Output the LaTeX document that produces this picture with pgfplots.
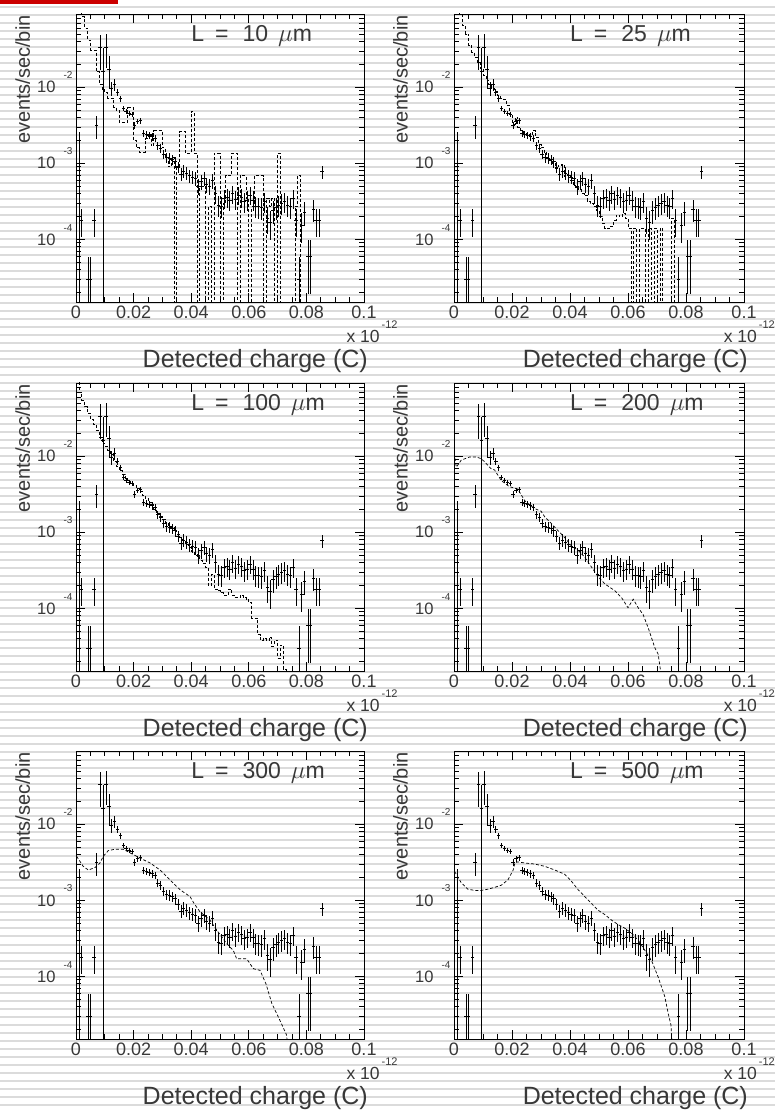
\documentclass[border=0pt]{standalone}
\usepackage{fontspec}
\setmainfont{Liberation Sans}
\usepackage{pgfplots}
\pgfplotsset{compat=1.18}
\usepackage{pgfplotstable}

\definecolor{txt}{gray}{0.22}
\definecolor{stripe}{gray}{0.86}

% measured points: x, rate, error (same in all six panels)
\pgfplotstableread{
x y e
0.0020 1.78e-4 7.0e-5
0.0042 3.0e-5 2.8e-5
0.0050 3.0e-5 2.8e-5
0.0063 1.78e-4 7.0e-5
0.0072 3.16e-3 1.05e-3
0.0084 3.31e-2 1.6e-2
0.0094 1.62e-2 1.619e-2
0.0104 3.4e-2 1.6e-2
0.0114 1.74e-2 8.0e-3
0.0124 9.77e-3 2.0e-3
0.0134 1.10e-2 2.0e-3
0.0144 8.51e-3 9.0e-4
0.0154 7.08e-3 6.0e-4
0.0164 5.25e-3 3.8e-4
0.0174 4.79e-3 3.6e-4
0.0184 4.57e-3 3.5e-4
0.0194 4.37e-3 3.4e-4
0.0204 3.16e-3 2.9e-4
0.0214 3.55e-3 3.1e-4
0.0224 3.63e-3 3.1e-4
0.0234 2.51e-3 2.6e-4
0.0244 2.40e-3 2.5e-4
0.0254 2.34e-3 2.5e-4
0.0264 2.24e-3 2.5e-4
0.0274 2.14e-3 2.4e-4
0.0284 1.70e-3 2.1e-4
0.0294 1.58e-3 2.1e-4
0.0304 1.32e-3 1.9e-4
0.0314 1.20e-3 1.8e-4
0.0324 1.17e-3 1.8e-4
0.0334 1.12e-3 1.7e-4
0.0344 1.05e-3 1.7e-4
0.0354 8.91e-4 1.55e-4
0.0364 7.24e-4 1.4e-4
0.0374 7.94e-4 1.46e-4
0.0384 7.41e-4 1.41e-4
0.0394 6.92e-4 1.37e-4
0.0404 6.61e-4 1.34e-4
0.0414 6.31e-4 1.31e-4
0.0424 5.01e-4 1.16e-4
0.0434 5.75e-4 1.25e-4
0.0444 6.31e-4 1.31e-4
0.0454 5.25e-4 1.19e-4
0.0464 5.01e-4 1.16e-4
0.0474 5.89e-4 1.26e-4
0.0484 3.98e-4 1.04e-4
0.0494 2.82e-4 8.7e-5
0.0504 2.75e-4 8.6e-5
0.0514 3.47e-4 9.7e-5
0.0524 3.55e-4 9.8e-5
0.0534 3.31e-4 9.5e-5
0.0544 3.98e-4 1.04e-4
0.0554 3.39e-4 9.6e-5
0.0564 3.80e-4 1.01e-4
0.0574 3.55e-4 9.8e-5
0.0584 3.16e-4 9.2e-5
0.0594 3.31e-4 9.5e-5
0.0604 3.80e-4 1.01e-4
0.0614 3.31e-4 9.5e-5
0.0624 2.75e-4 8.6e-5
0.0634 2.69e-4 8.5e-5
0.0644 2.63e-4 8.4e-5
0.0654 3.16e-4 9.2e-5
0.0664 1.91e-4 7.2e-5
0.0674 1.66e-4 6.7e-5
0.0684 2.40e-4 8.0e-5
0.0694 2.63e-4 8.4e-5
0.0704 2.82e-4 8.7e-5
0.0714 3.02e-4 9.0e-5
0.0724 3.16e-4 9.2e-5
0.0734 2.82e-4 8.7e-5
0.0744 2.69e-4 8.5e-5
0.0754 3.47e-4 9.7e-5
0.0764 1.78e-4 6.9e-5
0.0774 3.0e-5 2.9e-5
0.0784 1.55e-4 6.5e-5
0.0794 2.29e-4 7.9e-5
0.0806 5.9e-5 4.0e-5
0.0814 5.9e-5 4.0e-5
0.0824 2.51e-4 8.2e-5
0.0834 1.78e-4 6.9e-5
0.0844 1.78e-4 6.9e-5
0.0854 7.76e-4 1.45e-4
}\datatab

% simulation, L = 10 um (bin lower edge, content; 1e-6 = empty bin)
\pgfplotstableread{
x y
0.000 0.15
0.001 0.12
0.002 0.085
0.003 0.06
0.004 0.042
0.005 0.031
0.006 0.031
0.007 0.016
0.008 0.011
0.009 0.0095
0.010 0.0085
0.011 0.0072
0.012 0.0072
0.013 0.0055
0.014 0.005
0.015 0.0035
0.016 0.0035
0.017 0.0035
0.018 0.0054
0.019 0.0054
0.020 0.002
0.021 0.0016
0.022 0.0014
0.023 0.0014
0.024 0.0021
0.025 0.0024
0.026 0.0017
0.027 0.0027
0.028 0.0027
0.029 0.0027
0.030 0.0016
0.031 0.0012
0.032 0.0009
0.033 0.0012
0.034 0.000001
0.035 0.0009
0.036 0.0026
0.037 0.0026
0.038 0.00135
0.039 0.00135
0.040 0.0048
0.041 0.00135
0.042 0.000001
0.043 0.0005
0.044 0.0005
0.045 0.000001
0.046 0.00027
0.047 0.000001
0.048 0.00135
0.049 0.00135
0.050 0.000001
0.051 0.0003
0.052 0.00069
0.053 0.00069
0.054 0.00135
0.055 0.00135
0.056 0.000001
0.057 0.00069
0.058 0.00069
0.059 0.00035
0.060 0.000001
0.061 0.00027
0.062 0.00069
0.063 0.00069
0.064 0.00069
0.065 0.000001
0.066 0.00035
0.067 0.00027
0.068 0.00035
0.069 0.000001
0.070 0.00135
0.071 0.000001
0.076 0.00027
0.077 0.00069
0.078 0.000001
0.080 0.000001
}\simA

% simulation, L = 25 um
\pgfplotstableread{
x y
0.000 0.15
0.002 0.09
0.003 0.065
0.004 0.05
0.005 0.036
0.006 0.029
0.007 0.025
0.008 0.021
0.009 0.0175
0.010 0.0145
0.011 0.0125
0.012 0.0108
0.013 0.0097
0.014 0.0088
0.015 0.0078
0.016 0.0072
0.017 0.0070
0.018 0.0058
0.019 0.0045
0.020 0.0033
0.021 0.0040
0.022 0.0030
0.023 0.0027
0.024 0.0025
0.025 0.0023
0.026 0.0024
0.027 0.0027
0.028 0.0022
0.029 0.0018
0.030 0.0016
0.031 0.0014
0.032 0.0012
0.033 0.0011
0.034 0.00100
0.035 0.00085
0.036 0.00095
0.037 0.00098
0.038 0.00068
0.039 0.00072
0.040 0.00060
0.041 0.00053
0.042 0.00049
0.043 0.00045
0.044 0.00040
0.045 0.00038
0.046 0.00032
0.047 0.00030
0.048 0.00027
0.049 0.00024
0.050 0.00020
0.051 0.00016
0.052 0.00014
0.053 0.00014
0.054 0.00015
0.055 0.00018
0.056 0.00021
0.057 0.00020
0.058 0.00022
0.059 0.00019
0.060 0.00014
0.061 0.000001
0.062 0.00014
0.063 0.000001
0.064 0.00014
0.065 0.00014
0.066 0.000001
0.067 0.00014
0.068 0.000001
0.069 0.00014
0.070 0.000001
0.071 0.00014
0.072 0.000001
0.075 0.00019
0.076 0.000001
0.080 0.000001
}\simB

% simulation, L = 100 um
\pgfplotstableread{
x y
0.000 0.1
0.001 0.07
0.002 0.055
0.003 0.045
0.004 0.037
0.005 0.031
0.006 0.026
0.007 0.022
0.008 0.018
0.009 0.015
0.010 0.0135
0.011 0.012
0.012 0.0105
0.013 0.0085
0.014 0.0073
0.015 0.0065
0.016 0.0058
0.017 0.0052
0.018 0.0048
0.019 0.0044
0.020 0.0041
0.021 0.0038
0.022 0.0035
0.023 0.0031
0.024 0.0028
0.025 0.0025
0.026 0.0023
0.027 0.0020
0.028 0.0018
0.029 0.0016
0.030 0.0015
0.031 0.0013
0.032 0.0012
0.033 0.00115
0.034 0.00105
0.035 0.00095
0.036 0.00085
0.037 0.00078
0.038 0.00070
0.039 0.00063
0.040 0.00057
0.041 0.00052
0.042 0.00048
0.043 0.00043
0.044 0.00039
0.045 0.00035
0.046 0.00020
0.047 0.00028
0.048 0.00018
0.049 0.00017
0.050 0.00016
0.051 0.00015
0.052 0.00015
0.053 0.00018
0.054 0.00015
0.055 0.00014
0.056 0.00014
0.057 0.00015
0.058 0.00014
0.059 0.00013
0.060 0.00012
0.061 0.000075
0.062 0.000075
0.063 0.000045
0.064 0.000038
0.065 0.000040
0.066 0.000038
0.067 0.000042
0.068 0.000032
0.069 0.000038
0.070 0.000022
0.071 0.000033
0.072 0.000016
0.073 0.000001
0.075 0.000001
}\simC

% simulation, L = 200 um
\pgfplotstableread{
x y
0.0000 0.011
0.0008 0.0072
0.0025 0.0089
0.0054 0.0098
0.0077 0.0098
0.0094 0.0093
0.0105 0.0085
0.0117 0.0076
0.0127 0.0069
0.0140 0.0066
0.0163 0.0048
0.0190 0.0040
0.0220 0.0037
0.0244 0.0026
0.0267 0.0022
0.0285 0.0020
0.0300 0.0019
0.0313 0.0016
0.0336 0.0013
0.0359 0.00105
0.0382 0.00085
0.0405 0.00066
0.0428 0.00058
0.0451 0.00047
0.0474 0.00035
0.0497 0.00026
0.0520 0.00021
0.0555 0.00017
0.0578 0.000138
0.0600 0.000102
0.0618 0.000132
0.0635 0.000102
0.0652 0.000083
0.0670 0.000055
0.0693 0.000030
0.0704 0.000025
0.0716 0.000012
0.0725 0.000005
}\simD

% simulation, L = 300 um
\pgfplotstableread{
x y
0.0002 0.0038
0.0025 0.0028
0.0043 0.0025
0.0066 0.0027
0.0083 0.0031
0.0095 0.0038
0.0112 0.0045
0.0135 0.0047
0.0164 0.0047
0.0188 0.0042
0.0222 0.0036
0.0257 0.0031
0.0292 0.0025
0.0326 0.00186
0.0361 0.00138
0.0396 0.00112
0.0410 0.00091
0.0430 0.00071
0.0465 0.00055
0.0488 0.00041
0.0523 0.00027
0.0546 0.00022
0.0558 0.00017
0.0593 0.00017
0.0616 0.000126
0.0639 0.00012
0.0660 0.000079
0.0680 0.000044
0.0703 0.000029
0.0720 0.000021
0.0731 0.000017
0.0740 0.000008
}\simE

% simulation, L = 500 um
\pgfplotstableread{
x y
0.0002 0.0024
0.0025 0.0017
0.0048 0.0014
0.0071 0.00135
0.0094 0.00135
0.0117 0.0014
0.0140 0.00148
0.0163 0.00158
0.0186 0.00186
0.0204 0.0025
0.0210 0.0031
0.0220 0.0032
0.0244 0.0031
0.0278 0.0030
0.0313 0.0028
0.0348 0.0025
0.0382 0.0022
0.0405 0.00178
0.0428 0.00138
0.0451 0.00112
0.0474 0.00091
0.0497 0.00074
0.0520 0.00065
0.0543 0.00055
0.0566 0.00048
0.0589 0.00043
0.0612 0.00037
0.0635 0.00030
0.0658 0.00022
0.0681 0.000162
0.0704 0.000098
0.0727 0.000054
0.0739 0.000032
0.0748 0.000023
0.0755 0.000008
}\simF

\newcommand\ylab[1]{10\hspace{8pt}\raisebox{14pt}[0pt][0pt]{\fontsize{10}{10}\selectfont -#1}}
\newcommand\Lab[1]{L\hspace{11pt}=\hspace{14pt}#1\hspace{10pt}$\mu$m}
\newcommand\pow{x 10\rlap{\hspace{2pt}\raisebox{14pt}{\fontsize{11}{11}\selectfont -12}}}

\pgfplotsset{
  every axis/.append style={
    anchor=north west, scale only axis, height=288pt,
    xmin=0, xmax=0.1, ymin=1.5e-5, ymax=0.092,
    xtick={0,0.02,0.04,0.06,0.08,0.1},
    xticklabels={0,0.02,0.04,0.06,0.08,0.1},
    scaled x ticks=false,
    minor x tick num=3,
    ytick={1e-4,1e-3,1e-2},
    yticklabels={\ylab{4},\ylab{3},\ylab{2}},
    minor ytick={2e-5,3e-5,4e-5,5e-5,6e-5,7e-5,8e-5,9e-5,
      2e-4,3e-4,4e-4,5e-4,6e-4,7e-4,8e-4,9e-4,
      2e-3,3e-3,4e-3,5e-3,6e-3,7e-3,8e-3,9e-3,
      2e-2,3e-2,4e-2,5e-2,6e-2,7e-2,8e-2,9e-2},
    tick align=inside,
    major tick length=9pt, minor tick length=5pt,
    axis line style={line width=0.9pt},
    xticklabel style={font=\fontsize{18}{18}\selectfont, text=txt},
    yticklabel style={font=\fontsize{16.5}{16.5}\selectfont, text=txt},
    xlabel={Detected charge (C)},
    xlabel style={at={(axis description cs:1.014,-0.226)}, anchor=base east,
      inner sep=0pt, font=\fontsize{25}{25}\selectfont, text=txt},
    ylabel={events/sec/bin},
    ylabel style={at={(axis description cs:-0.16,0.996)}, anchor=base east,
      inner sep=0pt, font=\fontsize{20}{20}\selectfont, text=txt},
    clip mode=individual,
  },
  every tick/.append style={black, line width=0.7pt},
  simhist/.style={const plot, black, line width=0.7pt, dash pattern=on 3pt off 2pt},
  simline/.style={sharp plot, black, line width=0.7pt, dash pattern=on 3pt off 2pt},
  datapts/.style={draw=none, mark=none,
    error bars/.cd, y dir=both, y explicit, x dir=both, x fixed=0.0006,
    error mark=none, error bar style={draw=black, solid, line width=0.6pt}},
  firstbin/.style={black, solid, line width=0.6pt},
}
\tikzset{
  Ltext/.style={anchor=base west, inner sep=0pt, font=\fontsize{23}{23}\selectfont, text=txt},
  powtext/.style={anchor=base east, inner sep=0pt, font=\fontsize{17.5}{17.5}\selectfont, text=txt},
}

\begin{document}
\begin{tikzpicture}
\begin{scope}[x=1pt,y=1pt]
\useasboundingbox (0,0) rectangle (775,1112);
\fill[white] (0,0) rectangle (775,1112);
\foreach \k in {0,...,138} {\fill[stripe] (0,{1106.25-8.015*\k}) rectangle (775,{1104.25-8.015*\k});}
\fill[red!80!black] (0,1108) rectangle (118,1112);
\end{scope}

\begin{semilogyaxis}[at={(76pt,1098pt)}, width=288pt]
\addplot[simhist] table {\simA};
\addplot[firstbin] coordinates {(0.0011,1e-6) (0.0011,2.6e-3)};
\addplot[datapts] table[x=x, y=y, y error=e] {\datatab};
\node[Ltext] at (axis description cs:0.4,0.903) {\Lab{10}};
\node[powtext] at (axis description cs:1.055,-0.142) {\pow};
\end{semilogyaxis}

\begin{semilogyaxis}[at={(454pt,1098pt)}, width=290pt]
\addplot[simhist] table {\simB};
\addplot[firstbin] coordinates {(0.0011,1e-6) (0.0011,2.6e-3)};
\addplot[datapts] table[x=x, y=y, y error=e] {\datatab};
\node[Ltext] at (axis description cs:0.4,0.903) {\Lab{25}};
\node[powtext] at (axis description cs:1.045,-0.142) {\pow};
\end{semilogyaxis}

\begin{semilogyaxis}[at={(76pt,729pt)}, width=288pt]
\addplot[simhist] table {\simC};
\addplot[firstbin] coordinates {(0.0011,1e-6) (0.0011,2.6e-3)};
\addplot[datapts] table[x=x, y=y, y error=e] {\datatab};
\node[Ltext] at (axis description cs:0.4,0.903) {\Lab{100}};
\node[powtext] at (axis description cs:1.055,-0.142) {\pow};
\end{semilogyaxis}

\begin{semilogyaxis}[at={(454pt,729pt)}, width=290pt]
\addplot[simline] table {\simD};
\addplot[firstbin] coordinates {(0.0011,1e-6) (0.0011,2.6e-3)};
\addplot[datapts] table[x=x, y=y, y error=e] {\datatab};
\node[Ltext] at (axis description cs:0.4,0.903) {\Lab{200}};
\node[powtext] at (axis description cs:1.045,-0.142) {\pow};
\end{semilogyaxis}

\begin{semilogyaxis}[at={(76pt,361pt)}, width=288pt]
\addplot[simline] table {\simE};
\addplot[firstbin] coordinates {(0.0011,1e-6) (0.0011,2.6e-3)};
\addplot[datapts] table[x=x, y=y, y error=e] {\datatab};
\node[Ltext] at (axis description cs:0.4,0.903) {\Lab{300}};
\node[powtext] at (axis description cs:1.055,-0.142) {\pow};
\end{semilogyaxis}

\begin{semilogyaxis}[at={(454pt,361pt)}, width=290pt]
\addplot[simline] table {\simF};
\addplot[firstbin] coordinates {(0.0011,1e-6) (0.0011,2.6e-3)};
\addplot[datapts] table[x=x, y=y, y error=e] {\datatab};
\node[Ltext] at (axis description cs:0.4,0.903) {\Lab{500}};
\node[powtext] at (axis description cs:1.045,-0.142) {\pow};
\end{semilogyaxis}
\end{tikzpicture}
\end{document}
